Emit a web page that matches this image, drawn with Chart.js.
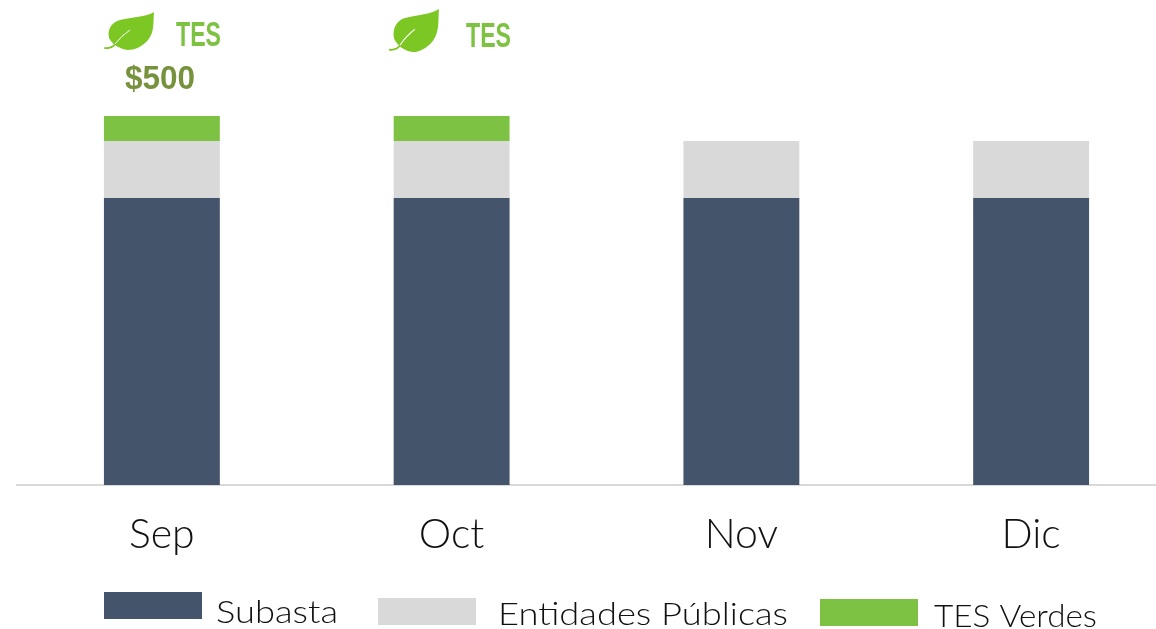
<!DOCTYPE html>
<html><head><meta charset="utf-8">
<script src="https://cdn.jsdelivr.net/npm/chart.js@4"></script>
<style>html,body{margin:0;padding:0;background:#fff;overflow:hidden}
#w{position:relative;width:1156px;height:629px;overflow:hidden}
canvas{position:absolute;left:0;top:0}</style></head>
<body><div id="w"><canvas id="c" width="1176" height="629"></canvas></div>
<script>
const categories=["Sep","Oct","Nov","Dic"];
const subasta=[5740,5740,5740,5740];
const entidades=[1140,1140,1140,1140];
const tesVerdes=[500,500,null,null];
const seriesNames=["Subasta","Entidades Públicas","TES Verdes"];
const seriesColors=["#44546A","#D9D9D9","#7DC242"];
const greenLabels=["TES","TES",null,null];
const amountLabels=["$500",null,null,null];
const legendBoxes=[[104,592],[378,598],[820,599]];
const legendText=[[216,613,122],[498,615,290],[934,617,163]];
const greenText=[[176,36,45],[466,37,45]];
const leaves=[[104,12,1],[389,9,1.13]];
const FONT='Lato,"Liberation Sans",sans-serif';
const BOLD='"Liberation Sans",sans-serif';
function fit(ctx,t,x,y,w){
  const m=ctx.measureText(t).width;
  ctx.save();ctx.translate(x,y);ctx.scale(w/m,1);ctx.fillText(t,0,0);ctx.restore();
}
function leaf(ctx,x,y,s){
  ctx.save();ctx.translate(x,y);ctx.scale(1,s);ctx.fillStyle="#7CC723";
  ctx.beginPath();ctx.moveTo(50,0);
  ctx.bezierCurveTo(49,8,51,20,44,28);
  ctx.bezierCurveTo(38,35,30,38,24,38);
  ctx.bezierCurveTo(15,37,8,32,5,26);
  ctx.bezierCurveTo(3,17,8,10,16,8);
  ctx.bezierCurveTo(28,5,42,5,50,0);ctx.closePath();ctx.fill();
  ctx.strokeStyle="#7CC723";ctx.lineWidth=1.6;ctx.beginPath();ctx.moveTo(0,36);ctx.quadraticCurveTo(8,37,12,31);ctx.stroke();
  ctx.strokeStyle="#fff";ctx.lineWidth=1;ctx.beginPath();ctx.moveTo(11,32);ctx.quadraticCurveTo(17,24,26,18);ctx.stroke();
  ctx.restore();
}
const overlay={id:"overlay",afterDatasetsDraw(chart){
  const ctx=chart.ctx;
  ctx.save();
  ctx.textBaseline="middle";ctx.textAlign="left";
  greenLabels.forEach((t,i)=>{if(!t)return;
    leaf(ctx,leaves[i][0],leaves[i][1],leaves[i][2]);
    ctx.fillStyle="#7DC242";ctx.font="bold 35px "+BOLD;
    fit(ctx,t,greenText[i][0],greenText[i][1],greenText[i][2]);
  });
  amountLabels.forEach((t,i)=>{if(!t)return;
    ctx.fillStyle="#76923C";ctx.font="bold 34px "+BOLD;
    fit(ctx,t,125,80,70);
  });
  seriesNames.forEach((n,i)=>{
    ctx.fillStyle=seriesColors[i];ctx.fillRect(legendBoxes[i][0],legendBoxes[i][1],98,27);
    ctx.fillStyle="#111";ctx.font="300 32px "+FONT;
    fit(ctx,n,legendText[i][0],legendText[i][1],legendText[i][2]);
  });
  ctx.restore();
}};
new Chart(document.getElementById("c"),{
  type:"bar",
  data:{labels:categories,datasets:[
    {label:seriesNames[0],data:subasta,backgroundColor:seriesColors[0]},
    {label:seriesNames[1],data:entidades,backgroundColor:seriesColors[1]},
    {label:seriesNames[2],data:tesVerdes,backgroundColor:seriesColors[2]}
  ]},
  plugins:[overlay],
  options:{responsive:false,animation:false,
    layout:{padding:{left:17,right:0,top:116,bottom:0}},
    datasets:{bar:{barPercentage:0.4,categoryPercentage:1}},
    plugins:{legend:{display:false},tooltip:{enabled:false}},
    scales:{
      x:{stacked:true,grid:{display:false},border:{color:"#D9D9D9",width:2},
         afterFit(s){s.height=144;},
         ticks:{color:"#111",font:{size:41,family:FONT,weight:"300"},padding:17,maxRotation:0}},
      y:{stacked:true,display:false,min:0,max:7380}
    }
  }
});
</script></body></html>
